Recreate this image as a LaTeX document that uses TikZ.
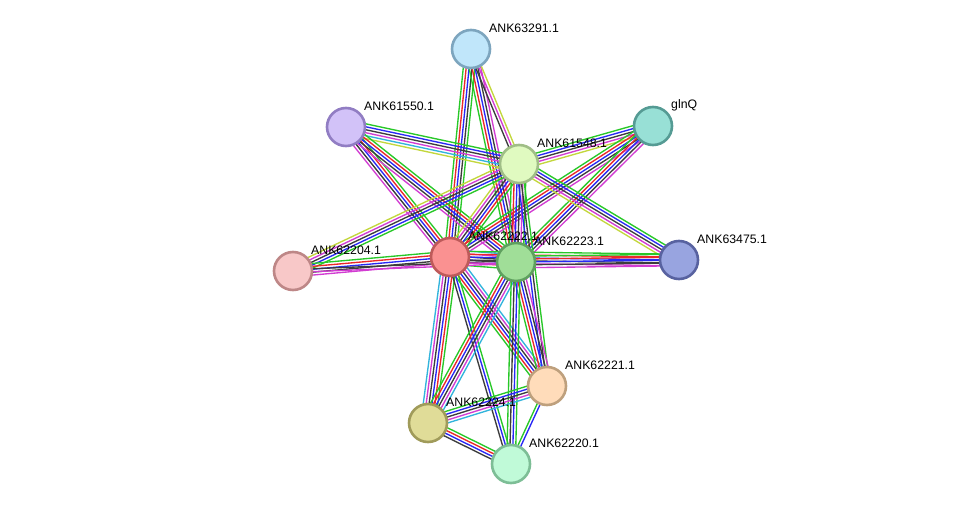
\documentclass[tikz,border=0pt]{standalone}
\usepackage{fontspec}
\setmainfont{Liberation Sans}
\usetikzlibrary{calc,backgrounds}
\definecolor{eg}{RGB}{40,200,40}
\definecolor{er}{RGB}{235,40,40}
\definecolor{eb}{RGB}{40,40,245}
\definecolor{ek}{RGB}{60,60,60}
\definecolor{em}{RGB}{210,60,210}
\definecolor{ec}{RGB}{50,180,220}
\definecolor{ey}{RGB}{195,215,60}
\definecolor{fA}{RGB}{192,230,250}\definecolor{dA}{RGB}{125,165,190}
\definecolor{fB}{RGB}{210,194,248}\definecolor{dB}{RGB}{145,125,195}
\definecolor{fG}{RGB}{152,224,214}\definecolor{dG}{RGB}{85,155,148}
\definecolor{fC}{RGB}{224,250,192}\definecolor{dC}{RGB}{160,190,135}
\definecolor{fR}{RGB}{250,145,145}\definecolor{dR}{RGB}{190,90,90}
\definecolor{fM}{RGB}{160,222,152}\definecolor{dM}{RGB}{95,160,95}
\definecolor{fP}{RGB}{248,200,200}\definecolor{dP}{RGB}{190,135,135}
\definecolor{fE}{RGB}{152,164,224}\definecolor{dE}{RGB}{88,98,160}
\definecolor{fF}{RGB}{255,220,186}\definecolor{dF}{RGB}{190,160,125}
\definecolor{fK}{RGB}{224,220,152}\definecolor{dK}{RGB}{160,155,90}
\definecolor{fL}{RGB}{192,250,216}\definecolor{dL}{RGB}{125,190,150}
\tikzset{
  prot/.style={circle, minimum size=38pt, inner sep=0pt, line width=2.6pt},
  plabel/.style={anchor=west, font=\fontsize{12.3}{14}\selectfont, text=black, inner sep=0pt},
  edgeline/.style={line width=1.35pt},
}
\newcommand\edgebundle[3]{%
  \foreach \cc [count=\nn] in {#3} {\xdef\bundlen{\nn}}%
  \foreach \cc [count=\ii] in {#3} {%
    \pgfmathsetmacro\off{(\ii-(\bundlen+1)/2)*2.9}%
    \draw[\cc, edgeline] ($(#1.center)!\off pt!90:(#2.center)$) -- ($(#2.center)!\off pt!-90:(#1.center)$);
  }%
}
\newcommand\protnode[4]{% name, x, y, label
  \node[prot, fill=f#1, draw=d#1] (#1) at (#2,#3) {};
  \node[plabel] (#1-lab) at (#2+18,#3-21) {#4};
}
\begin{document}
\begin{tikzpicture}[x=1pt,y=-1pt]
\useasboundingbox (0,0) rectangle (976,510);
\protnode{A}{471}{49}{ANK63291.1}
\protnode{B}{346}{127}{ANK61550.1}
\protnode{G}{653}{126}{glnQ}
\protnode{C}{519}{164}{ANK61548.1}
\protnode{R}{450}{257}{ANK62222.1}
\protnode{M}{516}{262}{ANK62223.1}
\protnode{P}{293}{271}{ANK62204.1}
\protnode{E}{679}{260}{ANK63475.1}
\protnode{F}{547}{386}{ANK62221.1}
\protnode{K}{428}{423}{ANK62224.1}
\protnode{L}{511}{464}{ANK62220.1}
\begin{pgfonlayer}{background}
\fill[white] (0,0) rectangle (976,510);
\edgebundle{A}{R}{eg,er,eb,ek,eg}
\edgebundle{A}{M}{eg,er,eb,ek,em}
\edgebundle{A}{C}{ek,em,ey}
\edgebundle{B}{C}{ey,ec,em,ek,eb,eg}
\edgebundle{B}{R}{em,ek,eb,er,eg}
\edgebundle{B}{M}{em,ek,eb,er,eg}
\edgebundle{G}{C}{eg,eb,ek,em,ey}
\edgebundle{G}{R}{eg,er,eb,ek,em}
\edgebundle{G}{M}{eg,er,eb,ek,em}
\edgebundle{C}{R}{ey,em,ek,eb,er,eg}
\edgebundle{C}{M}{eg,er,eb,ek,em,eg}
\edgebundle{C}{E}{ey,em,ek,eb,eg}
\edgebundle{C}{P}{ey,em,ek,eb,eg}
\edgebundle{C}{F}{eb,ek,eg}
\edgebundle{R}{M}{eg,er,eb,ek,em,ec}
\edgebundle{R}{P}{eg,er,eb,ek,em}
\edgebundle{M}{P}{ek,em}
\edgebundle{R}{E}{em,ek,eb,er,eg}
\edgebundle{M}{E}{em,ek,eb,er,eg}
\edgebundle{R}{F}{eg,er,eb,ek,em,ec}
\edgebundle{R}{K}{ec,em,ek,eb,er,eg}
\edgebundle{R}{L}{ek,eb,eg}
\edgebundle{M}{F}{eg,er,eb,ek,em}
\edgebundle{M}{K}{eg,er,eb,ek,em,ec}
\edgebundle{M}{L}{eg,ek,eb,eg}
\edgebundle{K}{F}{ec,em,ek,eb,eg}
\edgebundle{K}{L}{ek,eb,er,eg}
\edgebundle{F}{L}{eg,eb}
\end{pgfonlayer}
\end{tikzpicture}
\end{document}
